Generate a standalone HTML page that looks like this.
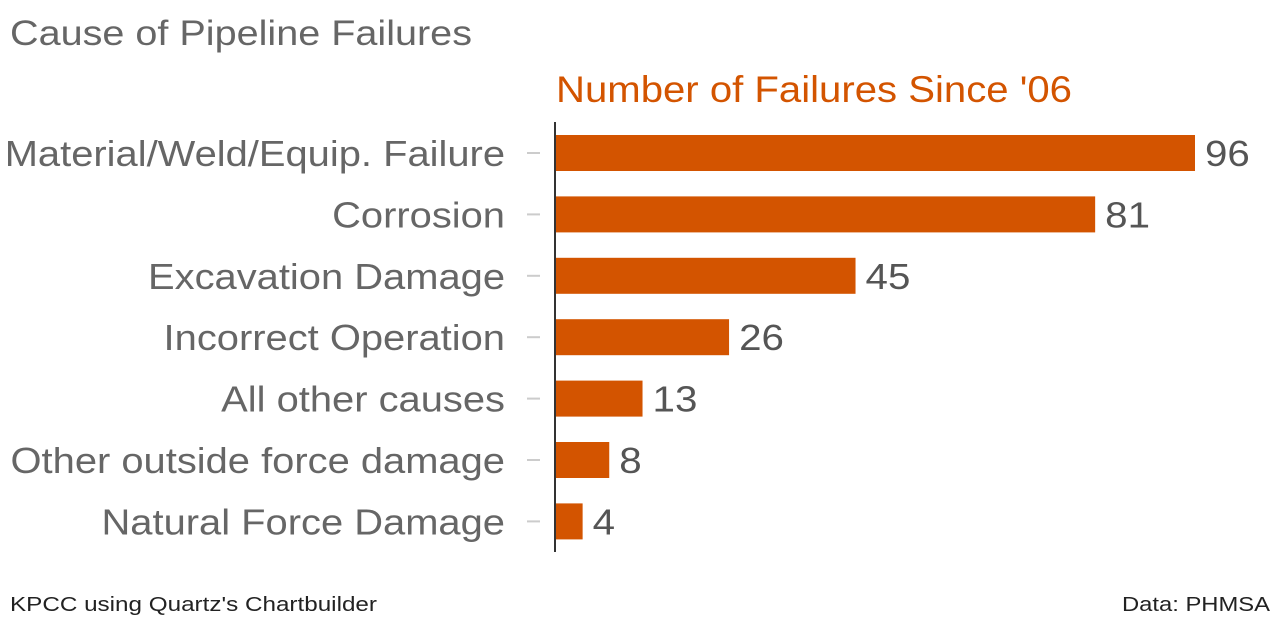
<!DOCTYPE html>
<html><head><meta charset="utf-8">
<style>
html,body{margin:0;padding:0;background:#fff;width:1280px;height:618px;overflow:hidden}
svg{display:block;font-family:"Liberation Sans",Arial,sans-serif}
</style></head>
<body>
<svg id="chart" width="1280" height="618" viewBox="0 0 1280 618">
<text x="10" y="45" font-size="35" fill="#666" textLength="462" lengthAdjust="spacingAndGlyphs">Cause of Pipeline Failures</text>
<text x="556" y="102" font-size="37" fill="#d35400" textLength="516" lengthAdjust="spacingAndGlyphs">Number of Failures Since '06</text>
<g id="bars"></g>
<line x1="555" y1="122" x2="555" y2="552" stroke="#333" stroke-width="2"/>
<text x="10" y="611" font-size="20" fill="#222" textLength="367" lengthAdjust="spacingAndGlyphs">KPCC using Quartz's Chartbuilder</text>
<text x="1122" y="611" font-size="20" fill="#222" textLength="148" lengthAdjust="spacingAndGlyphs">Data: PHMSA</text>
</svg>
<script>
const categories = ["Material/Weld/Equip. Failure","Corrosion","Excavation Damage","Incorrect Operation","All other causes","Other outside force damage","Natural Force Damage"];
const values = [96,81,45,26,13,8,4];

const x0 = 556, pxPerUnit = (1195 - 556) / 96;
const xScale = v => x0 + v * pxPerUnit;
const yCenter = i => 153 + i * 61.4;
const barH = 36;
const NS = "http://www.w3.org/2000/svg";
const g = document.getElementById('bars');
function mk(tag, attrs){const e=document.createElementNS(NS,tag);for(const k in attrs)e.setAttribute(k,attrs[k]);return e;}
function stretch(el, f){const w=el.getComputedTextLength();el.setAttribute('textLength',w*f);el.setAttribute('lengthAdjust','spacingAndGlyphs');}
categories.forEach((c,i)=>{
  const yc = yCenter(i);
  const r = mk('rect',{x:x0,y:yc-barH/2,width:xScale(values[i])-x0,height:barH,fill:'#d35400'});
  
  
  g.appendChild(r);
  const t = mk('line',{x1:527,x2:540,y1:yc,y2:yc,stroke:'#ccc','stroke-width':2});
  
  
  g.appendChild(t);
  const l = mk('text',{x:505,y:yc+13,'font-size':36,fill:'#666','text-anchor':'end'});
  l.textContent = c;
  
  
  g.appendChild(l);
  stretch(l, 1.108);
  const v = mk('text',{x:xScale(values[i])+10,y:yc+13,'font-size':36,fill:'#555'});
  v.textContent = values[i];
  
  
  g.appendChild(v);
  stretch(v, 1.12);
});
</script>
</body></html>
